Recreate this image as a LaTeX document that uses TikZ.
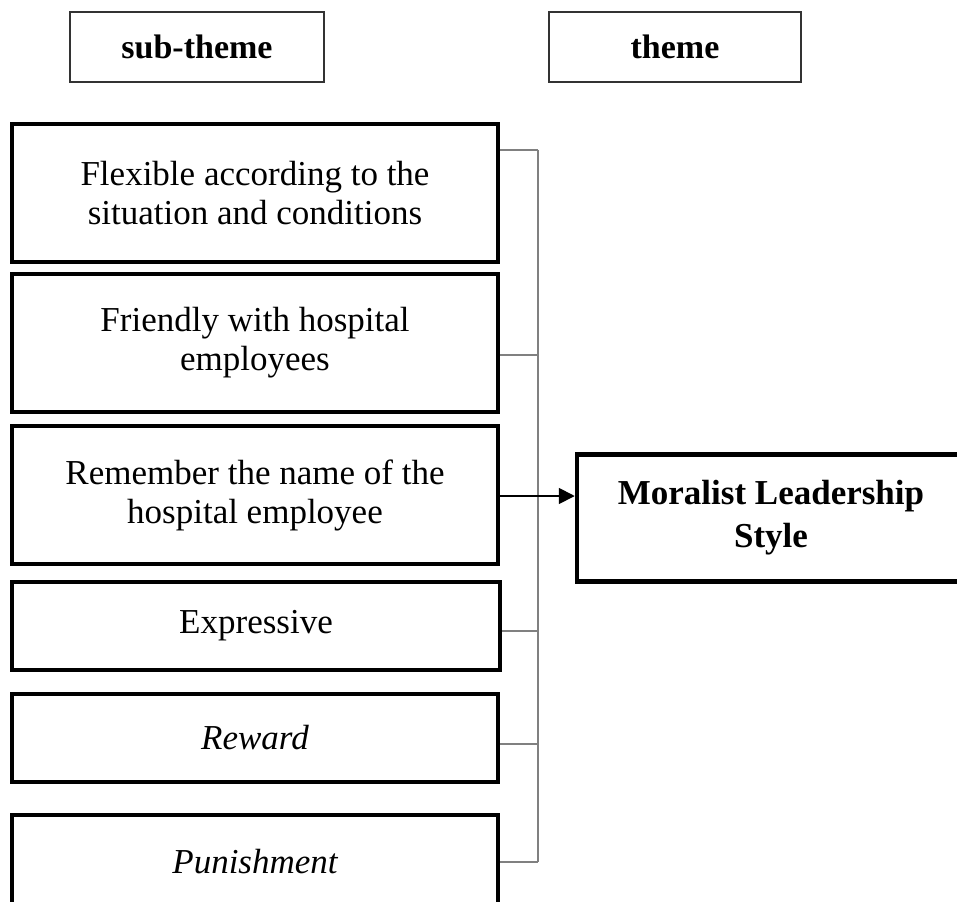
\documentclass[tikz,border=0pt]{standalone}
\usepackage{fontspec}
\setmainfont{Liberation Serif}
\usetikzlibrary{arrows.meta}
\begin{document}
\begin{tikzpicture}[x=1pt,y=-1pt,
  every node/.style={font=\fontsize{35}{39}\selectfont, align=center, inner sep=0pt},
  cbox/.style={draw=black, line width=4.5pt, minimum width=486pt},
  hbox/.style={draw=black!80, line width=1.8pt, minimum height=70pt, font=\fontsize{34}{39}\selectfont\bfseries},
  conn/.style={draw=black!50, line width=2.6pt},
  arr/.style={draw=black, line width=1.8pt, -{Triangle[length=16pt,width=16pt]}}]
\useasboundingbox (0,0) rectangle (957,901);
\node[hbox, minimum width=254pt] (h1) at (197,47) {sub-theme};
\node[hbox, minimum width=252pt] (h2) at (675,47) {theme};
\node[cbox, minimum height=138pt] (b1) at (255,193) {Flexible according to the\\situation and conditions};
\node[cbox, minimum height=138pt] (b2) at (255,343) {Friendly with hospital\\employees};
\node[cbox, minimum height=138pt] (b3) at (255,495) {Remember the name of the\\hospital employee};
\node[cbox, minimum height=88pt, minimum width=488pt] (b4) at (256,626) {Expressive};
\node[cbox, minimum height=88pt] (b5) at (255,738) {\itshape Reward};
\node[cbox, minimum height=94pt] (b6) at (255,862) {\itshape Punishment};
\node[cbox, minimum width=388pt, minimum height=127pt, font=\fontsize{35}{43}\selectfont\bfseries] (m) at (771,518) {Moralist Leadership\\Style};
\coordinate (j1) at (538,150);
\coordinate (j2) at (538,355);
\coordinate (j4) at (538,631);
\coordinate (j5) at (538,744);
\coordinate (j6) at (538,862);
\draw[conn] (j1) -- (j6);
\draw[conn] (b1.east |- j1) -- (j1);
\draw[conn] (b2.east |- j2) -- (j2);
\draw[conn] (b4.east |- j4) -- (j4);
\draw[conn] (b5.east |- j5) -- (j5);
\draw[conn] (b6.east |- j6) -- (j6);
\draw[arr] (b3.east |- 0,496) -- (m.west |- 0,496);
\end{tikzpicture}
\end{document}
